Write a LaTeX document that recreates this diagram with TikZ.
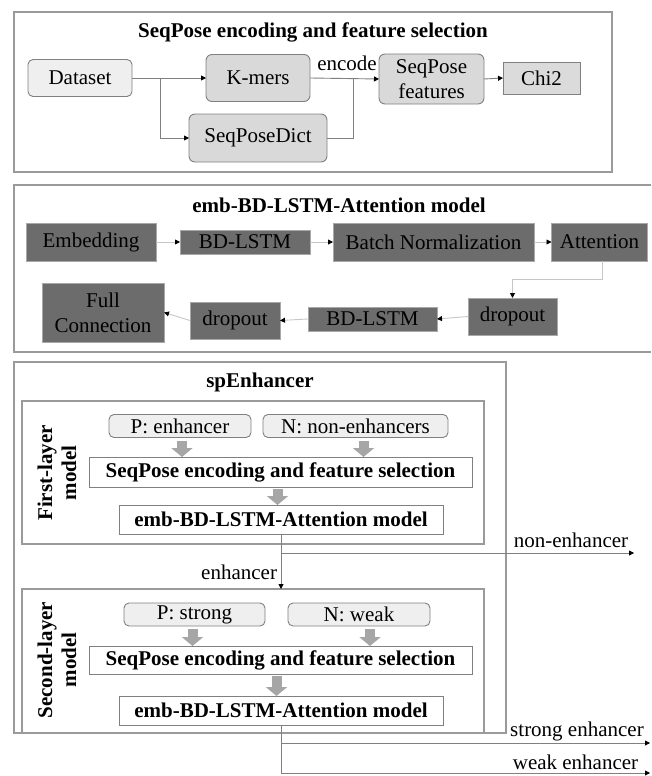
\documentclass[tikz,border=0pt]{standalone}
\usepackage{fontspec}
\setmainfont{Liberation Serif}
\usetikzlibrary{arrows.meta}
\definecolor{frm}{HTML}{9A9A9A}
\definecolor{bd}{HTML}{808080}
\definecolor{lightf}{HTML}{EFEFEF}
\definecolor{midf}{HTML}{D9D9D9}
\definecolor{darkf}{HTML}{6C6C6C}
\definecolor{darkbd}{HTML}{A8A8A8}
\definecolor{fat}{HTML}{A6A6A6}
\begin{document}
\begin{tikzpicture}[x=1pt,y=-1pt,
  every node/.style={inner sep=0pt, outer sep=0pt, align=center, font=\fontsize{21}{24}\selectfont},
  frame/.style={draw=frm, line width=1.3pt},
  rbox/.style={draw=bd, rounded corners=6pt, fill=midf, line width=0.9pt},
  lbox/.style={draw=bd, rounded corners=5pt, fill=lightf, line width=0.9pt},
  sbox/.style={draw=bd, fill=midf, line width=0.9pt},
  dbox/.style={draw=darkbd, fill=darkf, line width=0.8pt},
  wbox/.style={draw=bd, fill=white, line width=0.9pt, font=\fontsize{21}{24}\selectfont\bfseries},
  ttl/.style={font=\fontsize{21}{24}\selectfont\bfseries},
  conn/.style={draw=bd, line width=0.9pt, -{Triangle[length=5pt,width=5pt,fill=black,color=black]}},
  lconn/.style={draw=gray!45, line width=0.9pt, -{Triangle[length=5pt,width=5pt,fill=black,color=black]}},
  plain/.style={draw=bd, line width=0.9pt},
  fatarrow/.style={draw=fat, line width=10pt, -{Triangle[width=21pt,length=9pt]}},
]
\useasboundingbox (0,0) rectangle (651,776);

% ---------------- Panel 1 ----------------
\draw[frame] (14,12) rectangle (612,172);
\node[ttl] (t1) at (313,32) {SeqPose encoding and feature selection};
\node[lbox, minimum width=104pt, minimum height=37pt] (ds) at (80,78) {Dataset};
\node[rbox, minimum width=104pt, minimum height=47pt] (km) at (258,78) {K-mers};
\node[rbox, minimum width=138pt, minimum height=48pt] (dict) at (258,138) {SeqPoseDict};
\node[rbox, minimum width=105pt, minimum height=50pt, font=\fontsize{21}{25}\selectfont] (spf) at (431.5,79) {SeqPose\\features};
\node[sbox, minimum width=77pt, minimum height=32pt, fill=gray!28] (chi) at (541.5,78) {Chi2};
\coordinate (b1) at (160,78);
\coordinate (m1) at (353,78);
\node (enc) at (347,63) {encode};
\draw[conn] (ds.east) -- (km.west);
\draw[conn] (b1) |- (dict.west);
\draw[plain] (dict.east) -| (m1);
\draw[conn] (km.east) -- (spf.west);
\draw[conn] (spf.east) -- (chi.west);

% ---------------- Panel 2 ----------------
\draw[frame] (651,185) -- (14,185) -- (14,352) -- (651,352);
\node[ttl] (t2) at (339,205) {emb-BD-LSTM-Attention model};
\node[dbox, minimum width=130pt, minimum height=38pt] (emb) at (91,242) {Embedding};
\node[dbox, minimum width=130pt, minimum height=24pt] (bd1) at (245,242) {BD-LSTM};
\node[dbox, minimum width=201pt, minimum height=38pt] (bn) at (433.5,242) {Batch Normalization};
\node[dbox, minimum width=96pt, minimum height=38pt] (att) at (599.5,242) {Attention};
\node[dbox, minimum width=89pt, minimum height=37pt] (dr) at (512.5,316.5) {dropout};
\node[dbox, minimum width=129pt, minimum height=24pt] (bd2) at (372.5,319) {BD-LSTM};
\node[dbox, minimum width=90pt, minimum height=37pt] (dm) at (235,320.5) {dropout};
\node[dbox, minimum width=122pt, minimum height=59pt, font=\fontsize{21}{25}\selectfont] (fc) at (103,312.5) {Full\\Connection};
\draw[lconn] (emb.east) -- (bd1.west);
\draw[lconn] (bd1.east) -- (bn.west);
\draw[lconn] (bn.east) -- (att.west);
\draw[lconn] ([xshift=3pt]att.south) -- ++(0,18) -| (dr.north);
\draw[lconn] (dr.west) -- (bd2.east);
\draw[lconn] (bd2.west) -- (dm.east);
\draw[lconn] (dm.west) -- (fc.east);

% ---------------- Panel 3 ----------------
\draw[frame] (14,362) rectangle (506,733);
\node[ttl] (t3) at (260,382) {spEnhancer};

% first layer
\node[draw=frm, line width=1.2pt, minimum width=462pt, minimum height=143pt] (l1) at (253,472.5) {};
\node[ttl, rotate=90] (l1lab) at (57,473) {First-layer\\model};
\node[lbox, minimum width=142pt, minimum height=23pt] (pe) at (180,426) {P: enhancer};
\node[lbox, minimum width=185pt, minimum height=23pt] (ne) at (355.5,426) {N: non-enhancers};
\node[wbox, minimum width=383pt, minimum height=30pt] (sq1) at (280.5,472) {SeqPose encoding and feature selection};
\node[wbox, minimum width=324pt, minimum height=29pt] (em1) at (281,519.5) {emb-BD-LSTM-Attention model};
\draw[fatarrow] ([xshift=2pt,yshift=-3pt]pe.south) -- ([xshift=2pt]pe.south |- sq1.north);
\draw[fatarrow] ([xshift=8pt,yshift=-3pt]ne.south) -- ([xshift=8pt]ne.south |- sq1.north);
\draw[fatarrow] ([xshift=-3pt,yshift=-2pt]sq1.south) -- ([xshift=-3pt]sq1.south |- em1.north);

% second layer
\node[draw=frm, line width=1.2pt, minimum width=462pt, minimum height=144pt] (l2) at (253,661) {};
\node[ttl, rotate=90] (l2lab) at (57,660) {Second-layer\\model};
\node[lbox, minimum width=141pt, minimum height=23pt] (ps) at (194.5,614.5) {P: strong};
\node[lbox, minimum width=142pt, minimum height=23pt] (nw) at (359,614.5) {N: weak};
\node[wbox, minimum width=383pt, minimum height=28pt] (sq2) at (280.5,660) {SeqPose encoding and feature selection};
\node[wbox, minimum width=324pt, minimum height=29pt] (em2) at (281,710.5) {emb-BD-LSTM-Attention model};
\draw[fatarrow] ([xshift=-2pt,yshift=-3pt]ps.south) -- ([xshift=-2pt]ps.south |- sq2.north);
\draw[fatarrow] ([xshift=11pt,yshift=-3pt]nw.south) -- ([xshift=11pt]nw.south |- sq2.north);
\draw[fatarrow] ([xshift=-4pt,yshift=-2pt]sq2.south) -- ([xshift=-4pt]sq2.south |- em2.north);

% outputs
\coordinate (c1) at (281,553);
\coordinate (nend) at (634,553);
\node (lne) at (571,540) {non-enhancer};
\node[anchor=east] (lenh) at (277,572) {enhancer};
\draw[conn] (em1.south) -- (em1.south |- l2.north);
\draw[conn] (c1) -- (nend);

\coordinate (c2) at (281,743);
\coordinate (c3) at (281,773);
\coordinate (send) at (650,743);
\coordinate (wend) at (650,773);
\node (lse) at (577,731) {strong enhancer};
\node (lwe) at (575.5,762) {weak enhancer};
\draw[plain] (em2.south) -- (c3);
\draw[conn] (c2) -- (send);
\draw[conn] (c3) -- (wend);
\end{tikzpicture}
\end{document}
